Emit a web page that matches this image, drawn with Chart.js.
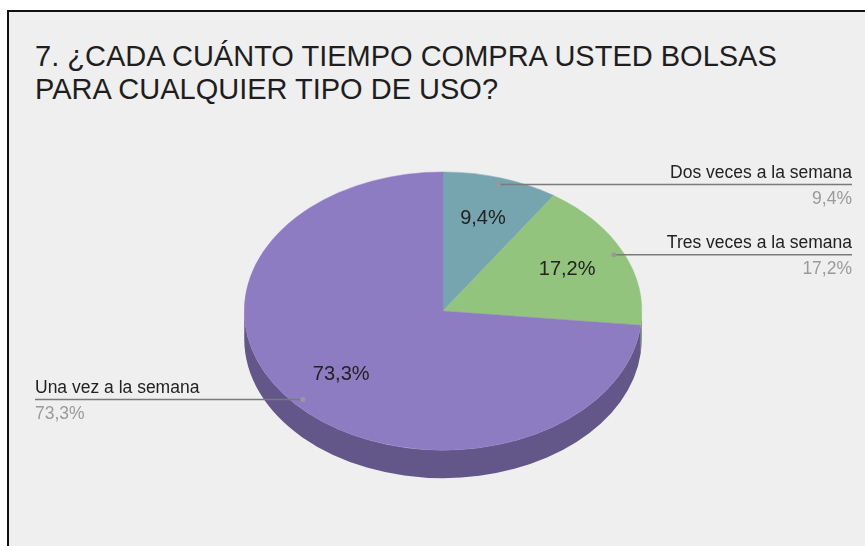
<!DOCTYPE html>
<html>
<head>
<meta charset="utf-8">
<script src="https://cdn.jsdelivr.net/npm/chart.js@4.4.1/dist/chart.umd.min.js"></script>
<style>
  html, body { margin: 0; padding: 0; background: #fff; }
  #wrap { position: relative; width: 865px; height: 546px; overflow: hidden; }
  #frame {
    position: absolute; left: 7px; top: 10px; right: -10px; bottom: -10px;
    background: #efefef; border-left: 2px solid #111; border-top: 2px solid #111;
  }
  #title {
    position: absolute; left: 35px; top: 40px; margin: 0;
    font: 29px "Liberation Sans", Arial, sans-serif; line-height: 33px;
    color: #1e1e1e; font-weight: normal; white-space: nowrap;
  }
  canvas { position: absolute; left: 0; top: 0; }
</style>
</head>
<body>
<div id="wrap">
  <div id="frame"></div>
  <h1 id="title">7. ¿CADA CUÁNTO TIEMPO COMPRA USTED BOLSAS<br>PARA CUALQUIER TIPO DE USO?</h1>
  <canvas id="pieChart" width="865" height="546"></canvas>
</div>
<script>
// Chart data
const categories = ["Dos veces a la semana", "Tres veces a la semana", "Una vez a la semana"];
const percentages = [9.4, 17.2, 73.3];

// Styles
const sliceColors = ["#76a5af", "#93c47d", "#8e7cc3"];
const sideColors = ["#53737a", "#678957", "#63578a"];
const TILT = 0.7;   // vertical squash of the pie
const DEPTH = 28;   // thickness of the 3D side

const fontFamily = '"Liberation Sans", Arial, sans-serif';

function fmtPct(v) {
  return v.toFixed(1).replace(".", ",") + "%";
}

// ----------------------------------------------------
// 3D PIE PLUGIN: draws the side, squashes the top face, adds labels
// ----------------------------------------------------
const pie3d = {
  id: "pie3d",
  beforeDatasetsDraw(chart) {
    const ctx = chart.ctx;
    const arcs = chart.getDatasetMeta(0).data;
    ctx.save();
    arcs.forEach((arc, i) => {
      const a0 = Math.max(arc.startAngle, 0);
      const a1 = Math.min(arc.endAngle, Math.PI);
      if (a1 <= a0) return;
      const rx = arc.outerRadius, ry = rx * TILT;
      ctx.beginPath();
      ctx.ellipse(arc.x, arc.y, rx, ry, 0, a0, a1);
      ctx.ellipse(arc.x, arc.y + DEPTH, rx, ry, 0, a1, a0, true);
      ctx.closePath();
      ctx.fillStyle = sideColors[i];
      ctx.fill();
    });
    const cy = arcs[0].y;
    ctx.translate(0, cy);
    ctx.scale(1, TILT);
    ctx.translate(0, -cy);
  },
  afterDatasetsDraw(chart) {
    const ctx = chart.ctx;
    ctx.restore();
    const arcs = chart.getDatasetMeta(0).data;
    const right = 852, left = 35;

    arcs.forEach((arc, i) => {
      const mid = (arc.startAngle + arc.endAngle) / 2;
      const r = arc.outerRadius;
      const cos = Math.cos(mid), sin = Math.sin(mid);

      // value inside slice
      ctx.font = "20px " + fontFamily;
      ctx.fillStyle = "#222";
      ctx.textAlign = "center";
      ctx.textBaseline = "middle";
      ctx.fillText(fmtPct(percentages[i]), arc.x + 0.69 * r * cos, arc.y + 0.69 * r * TILT * sin - 1);

      // leader line
      const px = arc.x + 0.95 * r * cos;
      const py = arc.y + 0.95 * r * TILT * sin;
      const onRight = cos >= 0;
      const endX = onRight ? right : left;
      ctx.strokeStyle = "#7a7a7a";
      ctx.lineWidth = 1.5;
      ctx.beginPath();
      ctx.moveTo(px, py);
      ctx.lineTo(endX, py);
      ctx.stroke();
      ctx.fillStyle = "#999";
      ctx.beginPath();
      ctx.arc(px, py, 2.5, 0, Math.PI * 2);
      ctx.fill();

      // outside labels
      ctx.textAlign = onRight ? "right" : "left";
      ctx.textBaseline = "alphabetic";
      ctx.font = "17.5px " + fontFamily;
      ctx.fillStyle = "#222";
      ctx.fillText(categories[i], endX, py - 7);
      ctx.fillStyle = "#9a9a9a";
      ctx.fillText(fmtPct(percentages[i]), endX, py + 19);
    });
  }
};

const pieChart = new Chart(document.getElementById("pieChart").getContext("2d"), {
  type: "pie",
  data: {
    labels: categories,
    datasets: [{
      data: percentages,
      backgroundColor: sliceColors,
      borderColor: sliceColors,
      borderWidth: 0.5,
      clip: false
    }]
  },
  options: {
    responsive: false,
    animation: false,
    layout: { padding: { left: 244, right: 223, top: 112, bottom: 36 } },
    plugins: {
      legend: { display: false },
      tooltip: { enabled: false },
      title: { display: false }
    }
  },
  plugins: [pie3d]
});
</script>
</body>
</html>
